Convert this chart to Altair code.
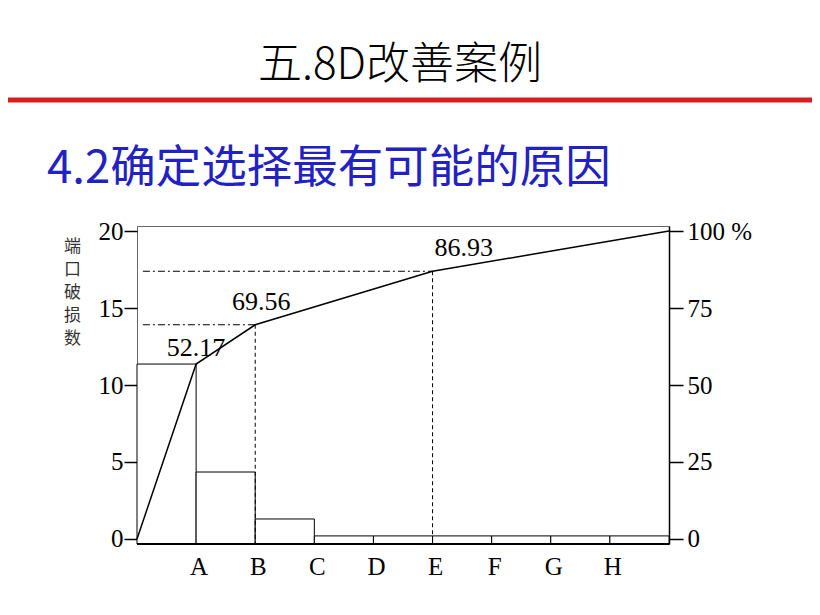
import altair as alt
import pandas as pd

# ---- data ----
categories = ["A", "B", "C", "D", "E", "F", "G", "H"]
slot_start = [0, 1, 2, 3, 4, 5, 6, 7, 8]
bar_counts = [11.36, 4.35, 1.3, 0.2, 0.2, 0.2, 0.2, 0.2, 0.2]
cum_pos = [0, 1, 2, 5, 9]
cum_pct = [0, 56.8, 69.56, 86.93, 100]
label_pos = [1, 2, 5]
label_pct = [56.8, 69.56, 86.93]
label_txt = ["52.17", "69.56", "86.93"]
guide_pos = [2, 5]
guide_pct = [69.56, 86.93]
left_ticks = [0, 5, 10, 15, 20]
right_ticks = [0, 25, 50, 75, 100]
title_text = "五.8D改善案例"
subtitle_text = "4.2确定选择最有可能的原因"
ytitle_chars = ["端", "口", "破", "损", "数"]

CNT_DOM = [-0.325, 20.325]
PCT_DOM = [CNT_DOM[0] * 5, CNT_DOM[1] * 5]
X_DOM = [0, 9]
W, H = 532, 318
SERIF = "Liberation Serif"
CJK = "Noto Sans CJK SC"
NUM_SIZE = 25

bars_df = pd.DataFrame({
    "x0": slot_start,
    "x1": [s + 1 for s in slot_start],
    "count": bar_counts,
    "base": [CNT_DOM[0]] * len(slot_start),
})
line_df = pd.DataFrame({"x": cum_pos, "pct": cum_pct})
lab_df = pd.DataFrame({"x": label_pos, "pct": label_pct, "t": label_txt})
guide_df = pd.DataFrame({
    "x": guide_pos, "pct": guide_pct,
    "x_start": [0.1] * len(guide_pos),
    "bottom": [PCT_DOM[0]] * len(guide_pos),
})
xlab_df = pd.DataFrame({"x": list(range(1, len(categories) + 1)), "t": categories,
                        "y": [CNT_DOM[0]] * len(categories)})

xscale = alt.Scale(domain=X_DOM, nice=False, zero=False)
cnt_scale = alt.Scale(domain=CNT_DOM, nice=False, zero=False)
pct_scale = alt.Scale(domain=PCT_DOM, nice=False, zero=False)

X_NOAXIS = dict(scale=xscale, axis=None)

bars = alt.Chart(bars_df).mark_rect(fill="white", stroke="black", strokeWidth=1).encode(
    x=alt.X("x0:Q", **X_NOAXIS),
    x2="x1:Q",
    y=alt.Y("count:Q", scale=cnt_scale, axis=alt.Axis(
        orient="left", values=left_ticks, grid=False, domain=False,
        tickSize=13, tickColor="black", tickWidth=1.5,
        labelFont=SERIF, labelFontSize=NUM_SIZE, labelColor="black", labelPadding=1,
        title=ytitle_chars, titleAngle=0, titleFont=CJK, titleFontSize=17,
        titleFontWeight="normal", titleColor="#333333", titleLineHeight=23,
        titleX=-65, titleY=12, titleAlign="center", titleBaseline="top",
    )),
    y2="base:Q",
)

# category letters under the bar boundaries, with the bottom frame line
xlabels = alt.Chart(xlab_df).mark_text(
    font=SERIF, fontSize=NUM_SIZE, color="black", align="center", baseline="top", dx=3, dy=11
).encode(
    x=alt.X("x:Q", **X_NOAXIS),
    y=alt.Y("y:Q", scale=cnt_scale, axis=None),
    text="t:N",
)
bottom_rule = alt.Chart(pd.DataFrame({"a": [X_DOM[0]], "b": [X_DOM[1]], "y": [CNT_DOM[0]]})).mark_rule(
    color="black", strokeWidth=2
).encode(
    x=alt.X("a:Q", **X_NOAXIS), x2="b:Q",
    y=alt.Y("y:Q", scale=cnt_scale, axis=None),
)

line = alt.Chart(line_df).mark_line(color="black", strokeWidth=1.5).encode(
    x=alt.X("x:Q", **X_NOAXIS),
    y=alt.Y("pct:Q", scale=pct_scale, axis=alt.Axis(
        orient="right", values=right_ticks, grid=False,
        domainColor="black", domainWidth=1.5,
        tickSize=14, tickColor="black", tickWidth=1.5,
        labelFont=SERIF, labelFontSize=NUM_SIZE, labelColor="black", labelPadding=4,
        labelExpr="datum.value == 100 ? '100 %' : datum.label",
        title=None,
    )),
)

hguides = alt.Chart(guide_df).mark_rule(color="black", strokeWidth=1, strokeDash=[7, 3, 2, 3]).encode(
    x=alt.X("x_start:Q", **X_NOAXIS),
    x2="x:Q",
    y=alt.Y("pct:Q", scale=pct_scale, axis=None),
)
vguides = alt.Chart(guide_df).mark_rule(color="black", strokeWidth=1, strokeDash=[4, 3]).encode(
    x=alt.X("x:Q", **X_NOAXIS),
    y=alt.Y("pct:Q", scale=pct_scale, axis=None),
    y2="bottom:Q",
)


def value_label(i, align, dx, dy):
    return alt.Chart(lab_df.iloc[[i]]).mark_text(
        font=SERIF, fontSize=26, color="black", align=align, baseline="bottom", dx=dx, dy=dy
    ).encode(
        x=alt.X("x:Q", **X_NOAXIS),
        y=alt.Y("pct:Q", scale=pct_scale, axis=None),
        text="t:N",
    )


labels_a = value_label(0, "center", 0, -3)
labels_b = value_label(1, "center", 6, -10)
labels_e = value_label(2, "left", 2, -10)

title = alt.Chart(pd.DataFrame({"t": [title_text]})).mark_text(
    font=CJK, fontSize=44, fontWeight=300, color="black", align="center", baseline="middle"
).encode(text="t:N", x=alt.value(263), y=alt.value(-160))

subtitle = alt.Chart(pd.DataFrame({"t": [subtitle_text]})).mark_text(
    font=CJK, fontSize=45.5, color="#2222c4", align="left", baseline="middle"
).encode(text="t:N", x=alt.value(-90), y=alt.value(-57))

redline = alt.Chart(pd.DataFrame({"t": [0]})).mark_rule(color="#d81e1e", strokeWidth=5).encode(
    x=alt.value(-129), x2=alt.value(675), y=alt.value(-126)
)

chart = alt.layer(
    bars, bottom_rule, xlabels, line, hguides, vguides,
    labels_a, labels_b, labels_e, title, subtitle, redline
).resolve_scale(y="independent").properties(
    width=W, height=H,
    padding={"left": 129, "top": 218, "right": 143, "bottom": 60},
    autosize=alt.AutoSizeParams(type="none"),
).configure_view(stroke="#666666", strokeWidth=1)

chart.save("out.html", embed_options={"renderer": "svg", "actions": False})
